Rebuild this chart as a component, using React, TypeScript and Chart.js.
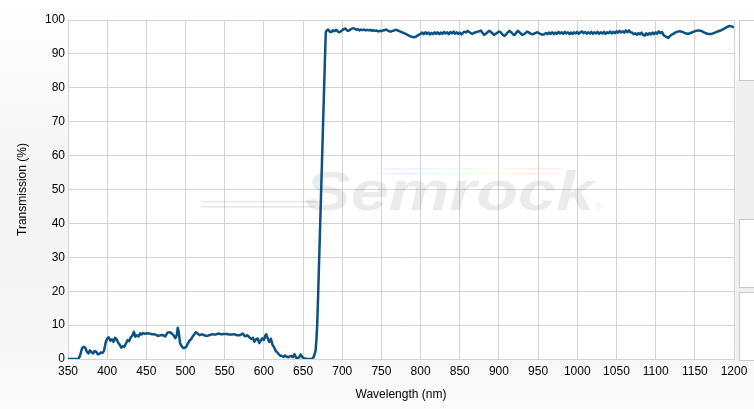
import React, { useEffect, useRef } from 'react';
import { Chart, registerables } from 'chart.js';

Chart.register(...registerables);

// Wavelength (nm)
const wavelengths: number[] = [
  350, 362, 364, 366, 368, 370, 372, 374, 376, 378, 380, 382, 384, 386, 388, 390, 392, 394, 396, 398,
  400, 402, 404, 406, 408, 410, 412, 414, 416, 418, 420, 422, 424, 426, 428, 430, 432, 434, 436, 438,
  440, 442, 444, 446, 448, 450, 454, 458, 462, 465, 468, 471, 474, 477, 480, 483, 485, 487, 489, 490,
  491, 493, 495, 497, 499, 501, 503, 505, 507, 509, 511, 513, 515, 518, 521, 524, 527, 530, 534, 538,
  542, 546, 550, 554, 558, 562, 566, 570, 573, 576, 579, 582, 584, 586, 588, 590, 592, 594, 596, 598,
  600, 602, 603, 605, 607, 609, 611, 613, 615, 617, 619, 621, 623, 625, 627, 629, 631, 633, 635, 637,
  639, 641, 643, 645, 647, 649, 651, 653, 655, 660, 662, 664, 666, 667, 668, 669, 670, 671, 672, 673,
  674, 675, 676, 677, 678, 679,
  680, 682, 684, 686, 688, 690, 692, 694, 696, 698, 700, 702, 704, 706, 708, 710, 712, 714, 716, 718,
  720, 722, 724, 726, 728, 730, 732, 734, 736, 738, 740, 742, 744, 746, 748, 750, 752, 754, 756, 758,
  760, 762, 764, 766, 768, 770, 772, 774, 776, 778, 780, 782, 784, 786, 788, 790, 792, 794, 796, 798,
  800, 802, 804, 806, 808, 810, 812, 814, 816, 818, 820, 822, 824, 826, 828, 830, 832, 834, 836, 838,
  840, 842, 844, 846, 848, 850, 852, 854, 856, 858, 860, 863, 866, 869, 872, 875, 877, 879, 881, 884,
  886, 888, 891, 894, 897, 900, 903, 905, 907, 910, 913, 916, 918, 920, 922, 924, 927, 930, 933, 936,
  939, 941, 943, 946, 949, 952, 955, 958, 960, 962, 964, 966, 968, 970, 972, 974, 976, 978, 980, 982,
  984, 986, 988, 990, 992, 994, 996, 998, 1000, 1002, 1004, 1006, 1008, 1010, 1012, 1014, 1016, 1018, 1020, 1022,
  1024, 1026, 1028, 1030, 1032, 1034, 1036, 1038, 1040, 1042, 1044, 1046, 1048, 1050, 1052, 1054, 1056, 1058, 1060, 1062,
  1064, 1066, 1068, 1070, 1072, 1074, 1076, 1078, 1080, 1082, 1084, 1086, 1088, 1090, 1092, 1094, 1096, 1098, 1100, 1102,
  1104, 1106, 1108, 1110, 1112, 1114, 1116, 1118, 1120, 1123, 1127, 1131, 1135, 1139, 1143, 1147, 1151, 1155, 1159, 1163,
  1167, 1171, 1175, 1179, 1183, 1187, 1191, 1194, 1197, 1200,
];

// Transmission (%)
const transmission: number[] = [
  0, 0, 0.3, 1.5, 3.2, 3.6, 3.3, 2.2, 1.6, 2.6, 2.0, 1.6, 2.4, 2.1, 1.4, 1.5, 1.9, 1.8, 2.5, 4.8,
  6.0, 6.4, 5.4, 5.8, 5.0, 6.3, 5.8, 4.8, 4.2, 3.3, 3.8, 3.6, 4.6, 5.6, 5.2, 6.4, 6.8, 8.1, 6.6, 7.0,
  6.6, 7.6, 7.2, 7.7, 7.4, 7.6, 7.5, 7.3, 7.2, 6.8, 7.0, 7.1, 6.6, 7.8, 7.9, 7.4, 6.9, 6.1, 7.2, 9.2,
  8.4, 4.8, 3.8, 3.3, 3.3, 3.6, 4.6, 5.4, 5.8, 6.6, 7.2, 7.9, 7.6, 7.0, 7.3, 7.0, 6.8, 7.0, 7.3, 7.2,
  7.5, 7.3, 7.4, 7.3, 7.2, 7.3, 7.0, 7.1, 7.5, 6.7, 7.0, 6.3, 5.9, 6.3, 5.0, 5.8, 6.1, 4.7, 5.5, 6.1,
  5.6, 7.0, 7.3, 6.0, 5.0, 6.0, 4.2, 3.5, 2.4, 2.0, 1.4, 1.0, 0.9, 0.6, 1.0, 0.7, 0.5, 0.8, 0.9, 0.5,
  1.5, 0.4, 0.3, 0.5, 1.4, 0.6, 0.2, 0.1, 0, 0, 0.2, 0.8, 2.5, 5.5, 10, 17, 25, 33, 41, 49,
  57, 65, 73, 81, 89, 96.4,
  96.8, 97.2, 96.6, 96.4, 97.0, 96.7, 97.1, 96.7, 96.4, 96.6, 97.0, 97.3, 97.5, 97.0, 96.8, 97.1, 97.4, 97.6, 97.4, 97.1,
  97.3, 96.9, 97.2, 97.0, 97.2, 96.9, 97.1, 96.9, 97.1, 96.8, 97.0, 96.8, 96.9, 96.6, 96.8, 96.7, 96.9, 97.0, 97.2, 96.9,
  96.7, 96.6, 96.8, 96.9, 97.1, 97.0, 96.8, 96.6, 96.4, 96.2, 96.0, 95.8, 95.5, 95.3, 95.1, 95.0, 94.9, 95.1, 95.4, 95.7,
  95.9, 96.3, 95.8, 96.4, 95.9, 96.3, 95.7, 96.2, 95.8, 96.4, 95.9, 96.4, 95.8, 96.3, 95.9, 96.5, 96.0, 96.4, 95.8, 96.5,
  96.0, 96.6, 95.9, 96.4, 95.9, 96.3, 95.7, 96.2, 96.5, 96.3, 96.8, 96.3, 95.9, 96.3, 96.5, 96.7, 96.9, 96.2, 95.6, 96.1,
  96.5, 96.8, 96.2, 95.6, 96.1, 96.6, 96.2, 95.6, 95.3, 96.0, 96.8, 96.3, 95.8, 95.6, 96.2, 96.8, 96.2, 95.6, 96.0, 96.6,
  96.2, 95.9, 95.8, 96.1, 96.4, 96.0, 95.7, 95.8, 96.2, 95.8, 96.3, 95.9, 96.4, 95.8, 96.3, 95.9, 96.5, 96.0, 96.4, 95.9,
  96.5, 96.0, 96.4, 95.8, 96.3, 95.9, 96.4, 96.0, 96.5, 95.9, 96.4, 96.6, 96.1, 96.5, 95.9, 96.4, 96.0, 96.5, 95.9, 96.4,
  96.0, 96.5, 95.9, 96.4, 96.0, 96.5, 95.9, 96.4, 96.1, 96.6, 96.0, 96.5, 96.1, 96.7, 96.2, 96.8, 96.3, 96.7, 96.2, 97.0,
  96.4, 97.0, 96.3, 96.3, 95.8, 96.1, 95.6, 96.2, 95.7, 96.3, 95.6, 95.4, 96.1, 95.6, 96.2, 95.7, 96.3, 95.8, 96.4, 95.9,
  96.7, 96.1, 96.5, 95.6, 95.2, 95.0, 94.7, 95.2, 95.6, 96.0, 96.5, 96.7, 96.4, 96.0, 96.0, 96.4, 96.8, 96.9, 96.7, 96.2,
  95.9, 95.9, 96.2, 96.6, 96.9, 97.4, 97.9, 98.2, 98.1, 97.8,
];

const xTickValues: number[] = [350, 400, 450, 500, 550, 600, 650, 700, 750, 800, 850, 900, 950, 1000, 1050, 1100, 1150, 1200];
const yTickValues: number[] = [0, 10, 20, 30, 40, 50, 60, 70, 80, 90, 100];

const xTitle = 'Wavelength (nm)';
const yTitle = 'Transmission (%)';
const watermarkText = 'Semrock';

const FONT = '"Liberation Sans", Arial, Helvetica, sans-serif';

const plotBgPlugin = {
  id: 'plotBg',
  beforeDraw(chart: any) {
    const { ctx, chartArea } = chart;
    ctx.save();
    ctx.fillStyle = '#ffffff';
    ctx.fillRect(chartArea.left, chartArea.top, chartArea.right - chartArea.left, chartArea.bottom - chartArea.top);
    ctx.restore();
  },
};

const watermarkPlugin = {
  id: 'watermark',
  beforeDatasetsDraw(chart: any) {
    const { ctx, chartArea } = chart;
    const W = chartArea.right - chartArea.left;
    const H = chartArea.bottom - chartArea.top;
    const tx0 = chartArea.left + W * 0.356;
    const tx1 = chartArea.left + W * 0.79;
    const base = chartArea.top + H * 0.56;
    ctx.save();
    // left swoosh lines
    ctx.strokeStyle = 'rgba(0,0,0,0.08)';
    ctx.lineWidth = 2;
    ctx.beginPath();
    ctx.moveTo(chartArea.left + W * 0.2, base - 8);
    ctx.lineTo(tx0 + 20, base - 8);
    ctx.moveTo(chartArea.left + W * 0.2, base - 3);
    ctx.lineTo(tx0 + 10, base - 3);
    ctx.stroke();
    // rainbow lines
    const rx0 = chartArea.left + W * 0.455;
    const rx1 = chartArea.left + W * 0.745;
    const g = ctx.createLinearGradient(rx0, 0, rx1, 0);
    g.addColorStop(0, 'rgba(150,150,255,0.0)');
    g.addColorStop(0.15, 'rgba(170,170,255,0.18)');
    g.addColorStop(0.35, 'rgba(150,230,255,0.2)');
    g.addColorStop(0.5, 'rgba(170,255,170,0.22)');
    g.addColorStop(0.65, 'rgba(255,255,150,0.22)');
    g.addColorStop(0.85, 'rgba(255,170,170,0.22)');
    g.addColorStop(1, 'rgba(255,170,170,0.1)');
    ctx.strokeStyle = g;
    ctx.lineWidth = 2;
    ctx.beginPath();
    ctx.moveTo(rx0, base - 41);
    ctx.lineTo(rx1, base - 41);
    ctx.moveTo(rx0 - 6, base - 36);
    ctx.lineTo(rx1 - 4, base - 36);
    ctx.stroke();
    // text
    ctx.font = `italic bold 56px ${FONT}`;
    const w = ctx.measureText(watermarkText).width;
    ctx.translate(tx0, base);
    ctx.scale((tx1 - tx0) / w, 1);
    ctx.fillStyle = 'rgba(0,0,0,0.08)';
    ctx.textBaseline = 'alphabetic';
    ctx.fillText(watermarkText, 0, 0);
    ctx.restore();
    ctx.save();
    ctx.font = `9px ${FONT}`;
    ctx.fillStyle = 'rgba(0,0,0,0.1)';
    ctx.fillText('®', tx1 + 1, base - 1);
    ctx.restore();
  },
};

export default function App() {
  const ref = useRef<HTMLCanvasElement>(null);

  useEffect(() => {
    document.body.style.margin = '0';
    const canvas = ref.current;
    if (!canvas) return;
    const points = wavelengths.map((w, i) => ({ x: w, y: transmission[i] }));
    const chart = new Chart(canvas, {
      type: 'line',
      data: {
        datasets: [
          {
            data: points,
            borderColor: '#0b5283',
            borderWidth: 2.5,
            pointRadius: 0,
            tension: 0.02,
            fill: false,
            borderJoinStyle: 'round',
          },
        ],
      },
      options: {
        animation: false,
        responsive: false,
        devicePixelRatio: 1,
        parsing: false as any,
        layout: { padding: { left: 0, top: 20, right: 20, bottom: 0 } },
        plugins: { legend: { display: false }, tooltip: { enabled: false } },
        scales: {
          x: {
            type: 'linear',
            min: xTickValues[0],
            max: xTickValues[xTickValues.length - 1],
            afterBuildTicks: (s: any) => {
              s.ticks = xTickValues.map((v) => ({ value: v }));
            },
            afterFit: (s: any) => {
              s.height = 50;
            },
            ticks: {
              color: '#000',
              font: { family: FONT, size: 12 },
              padding: 5,
              maxRotation: 0,
              autoSkip: false,
              callback: (v: any) => String(v),
            },
            grid: { color: '#d3d3d3', drawTicks: false, lineWidth: 1 },
            border: { color: '#d3d3d3' },
            title: {
              display: true,
              text: xTitle,
              color: '#000',
              font: { family: FONT, size: 12 },
              padding: { top: 0, bottom: 7 },
            },
          },
          y: {
            type: 'linear',
            min: yTickValues[0],
            max: yTickValues[yTickValues.length - 1],
            afterBuildTicks: (s: any) => {
              s.ticks = yTickValues.map((v) => ({ value: v }));
            },
            afterFit: (s: any) => {
              s.width = 68;
            },
            ticks: {
              color: '#000',
              font: { family: FONT, size: 12 },
              padding: 3,
              autoSkip: false,
              callback: (v: any) => String(v),
            },
            grid: { color: '#d3d3d3', drawTicks: false, lineWidth: 1 },
            border: { color: '#d3d3d3' },
            title: {
              display: true,
              text: yTitle,
              color: '#000',
              font: { family: FONT, size: 12 },
              padding: { top: 15, bottom: 0 },
            },
          },
        },
      },
      plugins: [plotBgPlugin, watermarkPlugin],
    });
    return () => chart.destroy();
  }, []);

  return (
    <div
      style={{
        position: 'relative',
        width: 754,
        height: 409,
        overflow: 'hidden',
        background: 'linear-gradient(180deg, #ffffff 0%, #f4f4f4 45%, #f6f6f6 80%, #fbfbfb 100%)',
      }}
    >
      <div style={{ position: 'absolute', left: 736, top: 80, width: 18, height: 280, background: '#efefef' }} />
      <div style={{ position: 'absolute', left: 739, top: 20, width: 30, height: 59, background: '#fff', border: '1px solid #c8c8c8' }} />
      <div style={{ position: 'absolute', left: 739, top: 219, width: 30, height: 67, background: '#fff', border: '1px solid #c8c8c8' }} />
      <div style={{ position: 'absolute', left: 739, top: 292, width: 30, height: 67, background: '#fff', border: '1px solid #c8c8c8' }} />
      <canvas ref={ref} width={754} height={409} style={{ position: 'absolute', left: 0, top: 0 }} />
    </div>
  );
}
